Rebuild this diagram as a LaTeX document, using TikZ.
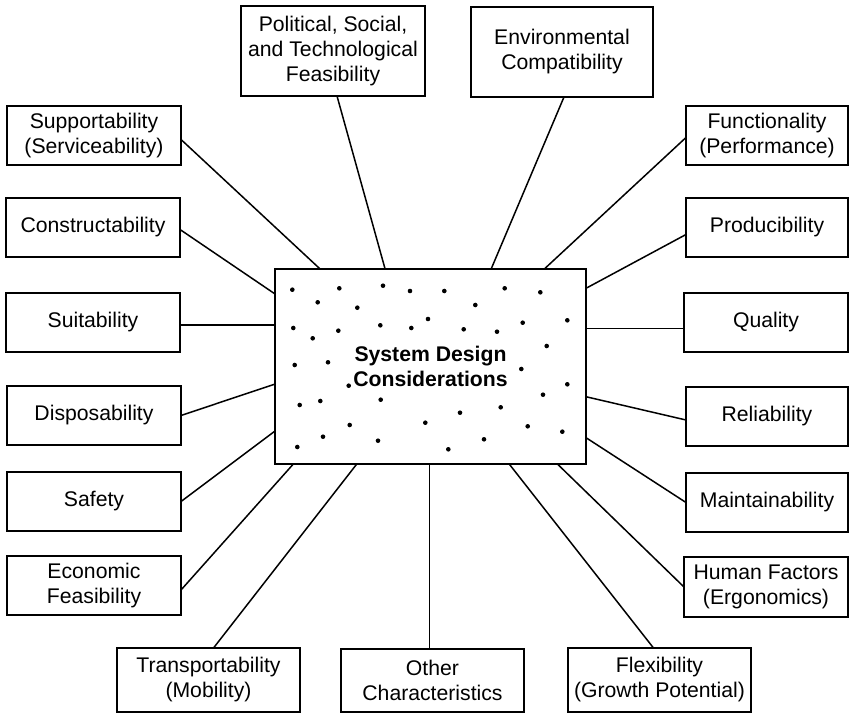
\documentclass[tikz,border=0pt]{standalone}
\usepackage{fontspec}
\setmainfont{Liberation Sans}
\usetikzlibrary{calc}
\tikzset{
  lbox/.style={draw, line width=1.4pt, align=center, inner sep=0pt, outer sep=0pt,
    font=\fontsize{21.2}{25}\selectfont},
  conn/.style={line width=1.5pt},
  centerbox/.style={draw, line width=2.8pt, align=center, inner sep=0pt, outer sep=0pt,
    minimum width=311pt, minimum height=195pt, font=\bfseries\fontsize{21.2}{25.5}\selectfont}
}
\begin{document}
\begin{tikzpicture}[x=1pt,y=-1pt]
\useasboundingbox (0,0) rectangle (849,714);
\fill[white] (0,0) rectangle (849,714);

% central box
\node[centerbox] (c) at (430.5,366.5) {System Design\\Considerations};

% dots
\foreach \px/\py in {292.3/289.7,339.3/288.3,383/285.7,410/291,444.3/291,504.7/288.3,540.3/292.3,
  317.7/302.3,357.3/307.7,475.3/305,293.3/328,338.3/330.7,380.3/325.3,411.3/328,428/319,
  463.7/329.3,497/331.7,522.7/322.7,567.3/320.3,312.7/338.3,546.7/346,294.7/365,328/362.3,
  521.3/369,348.7/385.7,567.3/384.3,299.7/405,320.3/401,380.7/399.7,543/394.7,460/412.7,
  500.7/407.3,425.3/422.7,349.7/425,527.7/426.3,562.3/431.7,323/436.7,378/440.7,484/439.3,
  297.3/447,448.3/449.3}
  \fill (\px,\py) circle (2.3pt);

% surrounding boxes
\node[lbox, minimum width=184pt, minimum height=90pt] (pol) at (333,51) {Political, Social,\\and Technological\\Feasibility};
\node[lbox, minimum width=182pt, minimum height=90pt] (env) at (562,52) {Environmental\\Compatibility};
\node[lbox, minimum width=174pt, minimum height=59pt] (sup) at (94,135.5) {Supportability\\(Serviceability)};
\node[lbox, minimum width=174pt, minimum height=59pt] (con) at (93,227.5) {Constructability};
\node[lbox, minimum width=174pt, minimum height=59pt] (sui) at (93,322.5) {Suitability};
\node[lbox, minimum width=174pt, minimum height=59pt] (dis) at (94,415.5) {Disposability};
\node[lbox, minimum width=174pt, minimum height=59pt] (saf) at (94,501.5) {Safety};
\node[lbox, minimum width=174pt, minimum height=59pt] (eco) at (94,585.5) {Economic\\Feasibility};
\node[lbox, minimum width=183pt, minimum height=64pt] (tra) at (208.5,680) {Transportability\\(Mobility)};
\node[lbox, minimum width=183pt, minimum height=63pt] (oth) at (432.5,680.5) {Other\\Characteristics};
\node[lbox, minimum width=183pt, minimum height=64pt] (fle) at (659.5,680) {Flexibility\\(Growth Potential)};
\node[lbox, minimum width=162pt, minimum height=59pt] (fun) at (767,135.5) {Functionality\\(Performance)};
\node[lbox, minimum width=162pt, minimum height=59pt] (pro) at (767,227.5) {Producibility};
\node[lbox, minimum width=164pt, minimum height=59pt] (qua) at (766,322.5) {Quality};
\node[lbox, minimum width=162pt, minimum height=59pt] (rel) at (767,416.5) {Reliability};
\node[lbox, minimum width=162pt, minimum height=59pt] (mai) at (767,502.5) {Maintainability};
\node[lbox, minimum width=164pt, minimum height=60pt] (hum) at (766,587) {Human Factors\\(Ergonomics)};

% connectors
\draw[conn] ([yshift=-4pt]sup.east) -- ($(c.north west)!0.145!(c.north east)$);
\draw[conn] ([xshift=4pt]pol.south) -- ($(c.north west)!0.354!(c.north east)$);
\draw[conn] ([xshift=2pt]env.south) -- ($(c.north west)!0.695!(c.north east)$);
\draw[conn] ([yshift=-2pt]fun.west) -- ($(c.north west)!0.866!(c.north east)$);
\draw[conn] ([yshift=-2pt]con.east) -- ($(c.north west)!0.128!(c.south west)$);
\draw[conn] ([yshift=-2.5pt]sui.east) coordinate (sa) -- (sa -| c.west);
\draw[conn] (dis.east) -- ($(c.north west)!0.59!(c.south west)$);
\draw[conn] (saf.east) -- ($(c.north west)!0.831!(c.south west)$);
\draw[conn] ([yshift=-7pt]pro.west) -- ($(c.north east)!0.099!(c.south east)$);
\draw[conn] ([yshift=-6pt]qua.west) coordinate (qa) -- (qa -| c.east);
\draw[conn] ([yshift=-3.5pt]rel.west) -- ($(c.north east)!0.655!(c.south east)$);
\draw[conn] (mai.west) -- ($(c.north east)!0.865!(c.south east)$);
\draw[conn] ([yshift=-4.5pt]eco.east) -- ($(c.south west)!0.059!(c.south east)$);
\draw[conn] ([xshift=5pt]tra.north) -- ($(c.south west)!0.263!(c.south east)$);
\draw[conn] ([xshift=-3pt]oth.north) coordinate (oa) -- (oa |- c.south);
\draw[conn] ([xshift=-6pt]fle.north) -- ($(c.south west)!0.753!(c.south east)$);
\draw[conn] (hum.west) -- ($(c.south west)!0.908!(c.south east)$);
\end{tikzpicture}
\end{document}
